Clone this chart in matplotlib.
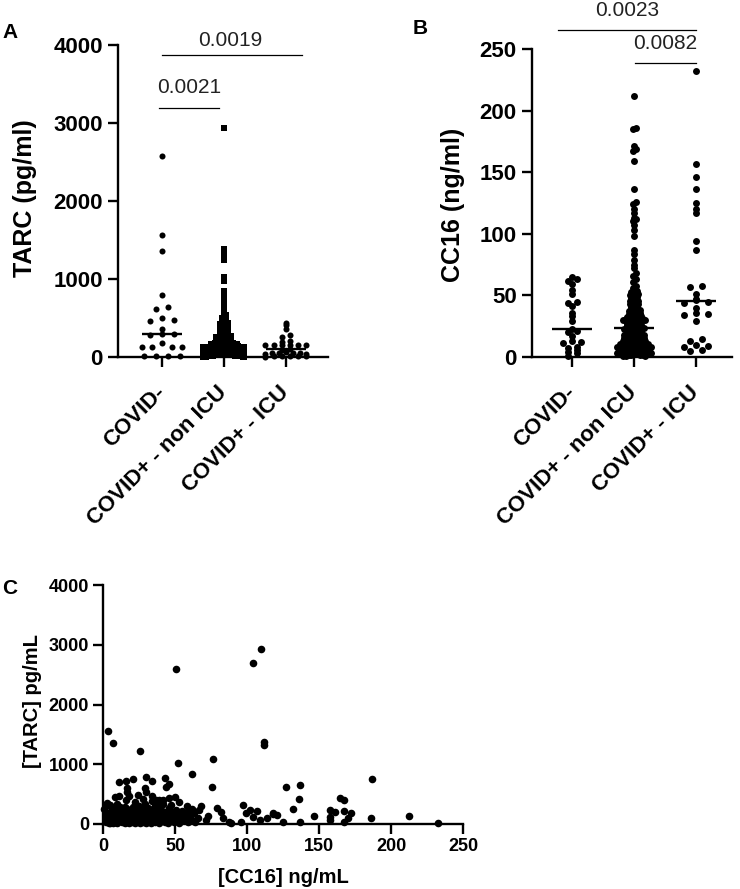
"""TARC / CC16 in COVID groups: two dot plots plus a scatter."""

import matplotlib
matplotlib.use("Agg")
import matplotlib.pyplot as plt
import numpy as np

plt.rcParams["font.family"] = ["Liberation Sans", "DejaVu Sans"]

GROUPS = ["COVID-", "COVID+ - non ICU", "COVID+ - ICU"]

# panel A: TARC (pg/ml)
TARC_NEG = [2580, 1560, 1360, 790, 640, 610, 500, 480, 460, 355, 300, 290,
            280, 180, 132, 132, 130, 128, 15, 12, 10, 8]
TARC_NONICU = [
    2930, 1390, 1350, 1300, 1240, 1020, 980, 840, 790, 740, 700, 660, 620,
    580, 540, 505, 480, 462,
    448, 436, 417, 396, 384, 366, 352, 333, 318, 301,
    297, 286, 273, 262, 251, 242, 232, 223, 214, 205,
    198, 193, 187, 182, 177, 171, 166, 161, 156, 152,
    149, 146, 144, 140, 138, 136, 134, 132, 129, 127, 126,
    124, 122, 121, 119, 117, 116, 114, 111, 110, 108, 106, 105, 104, 103, 101,
    100, 98, 96, 95, 93, 92, 90, 88, 86, 85, 83, 81, 80, 78, 77, 75, 74, 72,
    70, 69, 67, 66, 64, 62, 61, 60, 58, 57, 56, 55, 54, 53, 52, 51, 50,
    48, 47, 45, 45, 44, 41, 40, 38, 37, 37, 35, 33, 32, 30, 30, 29, 27, 26,
    25, 24, 22, 21, 20, 20, 18, 17, 16, 15, 14, 12, 12, 11, 10, 9, 8, 8, 7,
    6, 5, 4, 3, 2,
]
TARC_ICU = [440, 410, 355, 282, 253, 200, 195, 160, 158, 155, 152, 150, 148,
            100, 95, 60, 55, 52, 48, 45, 42, 40, 15, 12, 10, 9, 8, 6]

# panel B: CC16 (ng/ml)
CC16_NEG = [65, 63, 62, 59, 54, 51, 45, 44, 41, 36, 33, 29, 23, 21, 20, 17,
            13, 12, 11, 8, 7, 6, 4, 3, 1]
CC16_NONICU = [
    212, 186, 185, 171, 169, 167, 159, 136, 126, 124, 120, 117, 113, 112, 110,
    107, 103, 98, 87, 84, 79, 75, 72, 68, 66, 63, 61, 58, 56,
    54.6, 53.8, 53.1, 52.5, 51.2, 50.4, 49.7, 48.3, 47.6, 46.9, 45.8, 45.1,
    44.3, 43.2, 42.7, 41.9, 41.0, 40.2, 39.6, 38.8, 38.1, 37.5, 36.9, 36.2,
    35.7, 35.1, 34.6, 34.0, 33.5, 33.1, 32.6, 32.2, 31.8, 31.3, 30.9, 30.5,
    30.2, 52.0, 47.0, 43.5, 39.0, 36.5, 34.3, 32.0, 31.0, 30.3,
    29.8, 29.4, 29.1, 28.7, 28.2, 27.9, 27.5, 27.0, 26.8, 26.3, 25.9, 25.6,
    25.2, 24.8, 24.5, 24.1, 23.8, 23.6, 23.3, 23.1,
    22.5, 22, 21.5, 21.5, 21, 20.5, 20, 20, 19.5, 19, 19, 18.5, 18, 18, 17.5,
    17, 17, 16.5, 16, 16, 15.5, 15.5, 15, 15, 14.5, 14, 14, 13.5, 13.5, 13,
    13, 12.5, 12.5, 12, 12, 11.5, 11.5, 11, 11, 11, 10.5, 10.5, 10, 10, 10,
    9.5, 9.5, 9, 9, 9, 8.5, 8.5, 8, 8, 8, 7.5, 7.5, 7, 7, 7, 6.5, 6.5, 6, 6,
    6, 5.5, 5.5, 5, 5, 5, 4.5, 4.5, 4, 4, 4, 3.5, 3.5, 3, 3, 3, 2.5, 2.5, 2,
    2, 1.5, 1.5, 1, 1, 0.5,
]
CC16_ICU = [232, 157, 146, 136, 125, 120, 117, 94, 87, 58, 57, 51, 47, 46, 45,
            44, 40, 36, 35, 34, 29, 15, 13, 10, 9, 8, 6, 5]

# panel C: ([CC16] ng/mL, [TARC] pg/mL)
SCATTER = [
    (3.7, 1562), (6.7, 1361), (26, 1222), (51, 2595), (52, 1016), (61.6, 830),
    (76.6, 1083), (75.7, 624), (104.2, 2701), (109.7, 2935), (112, 1378),
    (112, 1322), (126.9, 624), (136.6, 661), (136, 413), (132, 246),
    (186.8, 758), (164.6, 440), (167.4, 402), (157.6, 234), (161, 206),
    (157.6, 123), (157.6, 67), (167.4, 223), (172, 190), (170.4, 95),
    (167.4, 39), (185.9, 95), (212.7, 134), (232.4, 15), (146.5, 134),
    (136.8, 39), (125.2, 39), (117.8, 179), (120.6, 151), (114, 100),
    (107, 220), (104, 120), (97.5, 320), (99, 190), (96, 40), (87.5, 40),
    (89, 20), (83, 95), (81.6, 200), (79.4, 270), (73, 130), (71.5, 75),
    (67, 230), (68, 300), (102, 234), (109, 60), (118, 170),
    (11, 708), (16, 725), (21, 753), (17, 597), (30, 792), (34, 725),
    (29, 605), (43, 765), (46, 670), (44, 624), (18, 470), (16, 402),
    (11, 469), (8, 452), (3, 357), (5, 318), (34, 469), (37, 402), (39, 402),
    (42, 402), (46, 430), (47, 318), (50, 450), (53, 360), (30, 540),
    (17, 540), (24, 480), (58, 300), (62, 250), (55, 210),
    (1, 250), (2, 120), (2, 40), (3, 180), (4, 90), (4, 20), (5, 150),
    (6, 60), (6, 230), (7, 110), (7, 10), (8, 170), (8, 40), (9, 80),
    (9, 260), (10, 130), (10, 20), (11, 200), (11, 60), (12, 100), (12, 290),
    (13, 30), (13, 160), (14, 70), (14, 220), (15, 120), (15, 10), (16, 50),
    (16, 180), (17, 90), (17, 250), (18, 140), (18, 20), (19, 60), (19, 200),
    (20, 110), (20, 30), (21, 160), (21, 280), (22, 80), (22, 10), (23, 130),
    (23, 230), (24, 50), (24, 190), (25, 100), (25, 300), (26, 20), (26, 150),
    (27, 70), (27, 240), (28, 120), (28, 30), (29, 180), (29, 330), (30, 90),
    (30, 10), (31, 140), (31, 270), (32, 50), (32, 210), (33, 110), (33, 20),
    (34, 170), (34, 380), (35, 80), (35, 250), (36, 130), (36, 40), (37, 190),
    (38, 60), (38, 300), (39, 100), (39, 15), (40, 160), (40, 230), (41, 70),
    (42, 120), (42, 340), (43, 30), (43, 200), (44, 90), (45, 150), (45, 20),
    (46, 260), (47, 60), (48, 110), (48, 180), (49, 40), (50, 130), (51, 80),
    (51, 230), (52, 170), (53, 25), (54, 110), (55, 60), (56, 150), (57, 90),
    (58, 200), (59, 30), (60, 120), (62, 70), (63, 180), (64, 40), (66, 100),
    (2, 300), (3, 60), (5, 10), (8, 210), (10, 340), (13, 110), (15, 280),
    (19, 130), (22, 370), (26, 60), (28, 420), (33, 70), (36, 300),
]

W, H = 740, 889


def swarm(vals, row_h, step, half, top=np.inf):
    """GraphPad-like rows: values closer than row_h share a row, spread sideways.
    Rows above `top` stay in a single column."""
    vals = np.asarray(vals, float)
    order = np.argsort(vals)
    offs = np.zeros(len(vals))
    rows, cur = [], [order[0]]
    for i in order[1:]:
        if vals[i] - vals[cur[0]] < row_h:
            cur.append(i)
        else:
            rows.append(cur)
            cur = [i]
    rows.append(cur)
    for r in rows:
        n = len(r)
        if n == 1 or vals[r[0]] > top:
            continue
        s = min(step, 2 * half / (n - 1))
        pos = (np.arange(n) - (n - 1) / 2) * s
        # lowest values at the outside, highest in the middle
        perm = []
        lo, hi = 0, n - 1
        while lo <= hi:
            perm.append(lo)
            if lo != hi:
                perm.append(hi)
            lo += 1
            hi -= 1
        for k, j in enumerate(perm):
            offs[r[k]] = pos[j]
    return offs


def prism(ax, tick_fs):
    for s in ("top", "right"):
        ax.spines[s].set_visible(False)
    for s in ("left", "bottom"):
        ax.spines[s].set_linewidth(1.7)
    ax.tick_params(width=1.7, length=7, labelsize=tick_fs, direction="out")
    for lab in ax.get_yticklabels() + ax.get_xticklabels():
        lab.set_fontweight("bold")


def dot_panel(ax, groups, specs, ylim, yticks, ylabel):
    for i, (vals, marker, ms, row_h, step, top) in enumerate(zip(groups, *specs)):
        offs = swarm(vals, row_h, step, 0.33, top)
        ax.scatter(i + offs, vals, s=ms, marker=marker, color="black",
                   linewidths=0, clip_on=False, zorder=3)
        med = np.median(vals)
        ax.plot([i - 0.32, i + 0.32], [med, med], color="black", lw=1.7,
                zorder=4, solid_capstyle="butt")
    ax.set_ylim(*ylim)
    ax.set_yticks(yticks)
    ax.set_xticks(range(3))
    ax.set_xticklabels(GROUPS, rotation=45, ha="right", va="center",
                       rotation_mode="anchor", fontsize=17, fontweight="bold")
    ax.set_ylabel(ylabel, fontsize=18, fontweight="bold")
    prism(ax, 16)
    ax.tick_params(axis="y", length=7, pad=4)
    ax.tick_params(axis="x", length=7, pad=16)


def bracket(ax, x0, x1, y, text, tx, ty):
    ax.plot([x0, x1], [y, y], color="black", lw=0.9, clip_on=False)
    ax.text(tx, ty, text, ha="center", va="center", fontsize=15,
            color="#222222", clip_on=False)


fig = plt.figure(figsize=(W / 100, H / 100), dpi=100)

# ---- A
axA = fig.add_axes([118 / W, 1 - 357 / H, 210 / W, 312 / H])
dot_panel(axA, [TARC_NEG, TARC_NONICU, TARC_ICU],
          (["o", "s", "o"], [19, 20, 19], [60, 40, 30], [0.19, 0.06, 0.14],
           [np.inf, 560, np.inf]),
          (0, 4000), range(0, 4001, 1000), "TARC (pg/ml)")
axA.set_xlim(-0.71, 2.68)
axA.yaxis.set_label_coords(-0.386, 0.51)
bracket(axA, -0.05, 0.92, 3192, "0.0021", 0.44, 3449)
bracket(axA, 0.0, 2.26, 3872, "0.0019", 1.1, 4064)

# ---- B
axB = fig.add_axes([532 / W, 1 - 357 / H, 200 / W, 308 / H])
dot_panel(axB, [CC16_NEG, CC16_NONICU, CC16_ICU],
          (["o", "o", "o"], [25, 25, 25], [3, 2.2, 3], [0.145, 0.045, 0.19],
           [np.inf, np.inf, np.inf]),
          (0, 250), range(0, 251, 50), "CC16 (ng/ml)")
axB.set_xlim(-0.65, 2.58)
axB.yaxis.set_label_coords(-0.335, 0.494)
bracket(axB, -0.23, 2.0, 265.4, "0.0023", 0.88, 281.6)
bracket(axB, 1.02, 2.0, 238.6, "0.0082", 1.5, 254.6)

# ---- C
axC = fig.add_axes([103 / W, 1 - 824 / H, 360 / W, 239 / H])
pts = np.array(SCATTER)
axC.scatter(pts[:, 0], pts[:, 1], s=30, color="black", linewidths=0,
            clip_on=False, zorder=3)
axC.set_xlim(0, 250)
axC.set_ylim(0, 4000)
axC.set_xticks(range(0, 251, 50))
axC.set_yticks(range(0, 4001, 1000))
axC.set_xlabel("[CC16] ng/mL", fontsize=14.5, fontweight="bold")
axC.set_ylabel("[TARC] pg/mL", fontsize=14.5, fontweight="bold")
prism(axC, 13)
axC.tick_params(length=7, pad=3)
axC.yaxis.set_label_coords(-0.169, 0.515)
axC.xaxis.set_label_coords(0.5, -0.184)

for lab, x, y in (("A", 10, 32), ("B", 420, 29), ("C", 10, 588)):
    fig.text(x / W, 1 - y / H, lab, fontsize=15, fontweight="bold",
             ha="center", va="center")

fig.savefig("out.png", dpi=100)
